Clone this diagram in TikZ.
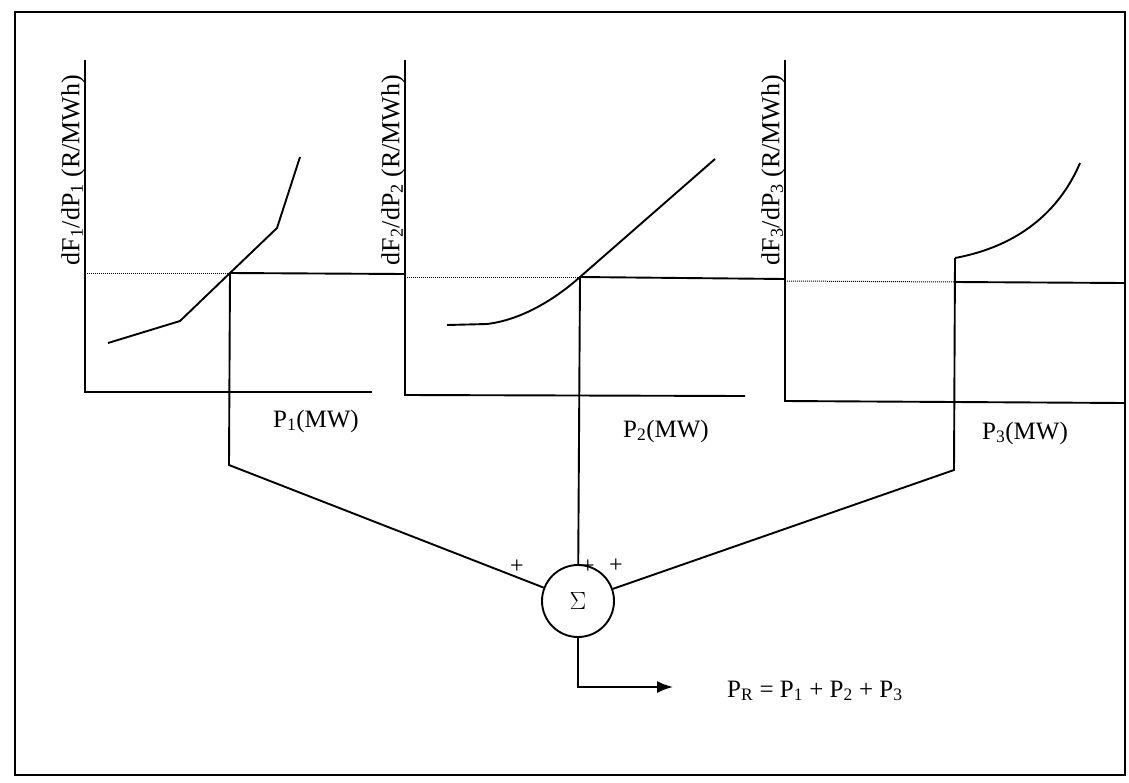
\documentclass[tikz,border=0pt]{standalone}
\usepackage{fontspec}
\setmainfont{Liberation Serif}
\usetikzlibrary{arrows.meta,positioning}

\begin{document}
\begin{tikzpicture}[
  x=1pt,y=-1pt,
  axis/.style={line width=1.9pt},
  curve/.style={line width=1.9pt},
  guide/.style={densely dotted,line width=1pt},
  link/.style={line width=1.9pt},
  ylbl/.style={rotate=90,inner sep=0pt,font=\fontsize{26}{28}\selectfont},
  xlbl/.style={inner sep=0pt,font=\fontsize{25}{27}\selectfont},
  sign/.style={inner sep=0pt,font=\fontsize{24}{25}\selectfont},
  arr/.style={-{Latex[length=16pt,width=12pt]},line width=1.9pt}
]
\useasboundingbox (0,0) rectangle (1129,782);
\draw[line width=1.9pt] (15,12) rectangle (1125,775);

% unit 1
\coordinate (o1) at (85,392);
\draw[axis] (85,60) -- (o1) -- (372,392);
\node[ylbl] (y1) at (73,170) {dF\textsubscript{1}/dP\textsubscript{1} (R/MWh)};
\node[xlbl] (x1) at (316,421) {P\textsubscript{1}(MW)};
\coordinate (q1) at (230,273);
\draw[curve] (108,343) -- (180,321) -- (q1) -- (277,228) -- (300,157);
\draw[guide] (85,273) -- (q1);

% unit 2
\coordinate (o2) at (405,395);
\draw[axis] (405,60) -- (o2) -- (745,396);
\node[ylbl] (y2) at (393,170) {dF\textsubscript{2}/dP\textsubscript{2} (R/MWh)};
\node[xlbl] (x2) at (666,431) {P\textsubscript{2}(MW)};
\coordinate (q2) at (580,277);
\draw[curve] (447,325) -- (487,324) .. controls (520,320) and (553,301) .. (q2) -- (715,159);
\draw[guide] (405,277) -- (q2);
\draw[link] (q1) -- (405,274);

% unit 3
\coordinate (o3) at (785,401);
\draw[axis] (785,60) -- (o3) -- (1125,403);
\node[ylbl] (y3) at (773,170) {dF\textsubscript{3}/dP\textsubscript{3} (R/MWh)};
\node[xlbl] (x3) at (1025,433) {P\textsubscript{3}(MW)};
\coordinate (c3) at (955,258);
\coordinate (q3) at (955,282);
\draw[curve] (c3) .. controls (1020,246) and (1060,210) .. (1080,163);
\draw[guide] (785,281) -- (q3);
\draw[link] (q2) -- (785,279);
\draw[link] (q3) -- (1125,283);

% summing junction
\node[draw,circle,line width=1.9pt,minimum size=72pt,inner sep=0pt,
  font=\fontsize{28}{30}\selectfont] (sum) at (578,601) {$\Sigma$};
\coordinate (k1) at (229,465);
\coordinate (k3) at (954,470);
\draw[link] (q1) -- (k1) -- (sum);
\draw[link] (q2) -- (sum);
\draw[link] (c3) -- (k3) -- (sum);
\node[sign] (s1) at (517,567) {+};
\node[sign] (s2) at (588,567) {+};
\node[sign] (s3) at (616,566) {+};

% output
\coordinate (bend) at (578,687);
\coordinate (tip) at (673,687);
\draw[arr] (sum) -- (bend) -- (tip);
\node[inner sep=0pt,font=\fontsize{25}{27}\selectfont,anchor=west] (eq) at (727,691)
  {P\textsubscript{R} = P\textsubscript{1} + P\textsubscript{2} + P\textsubscript{3}};
\end{tikzpicture}
\end{document}
